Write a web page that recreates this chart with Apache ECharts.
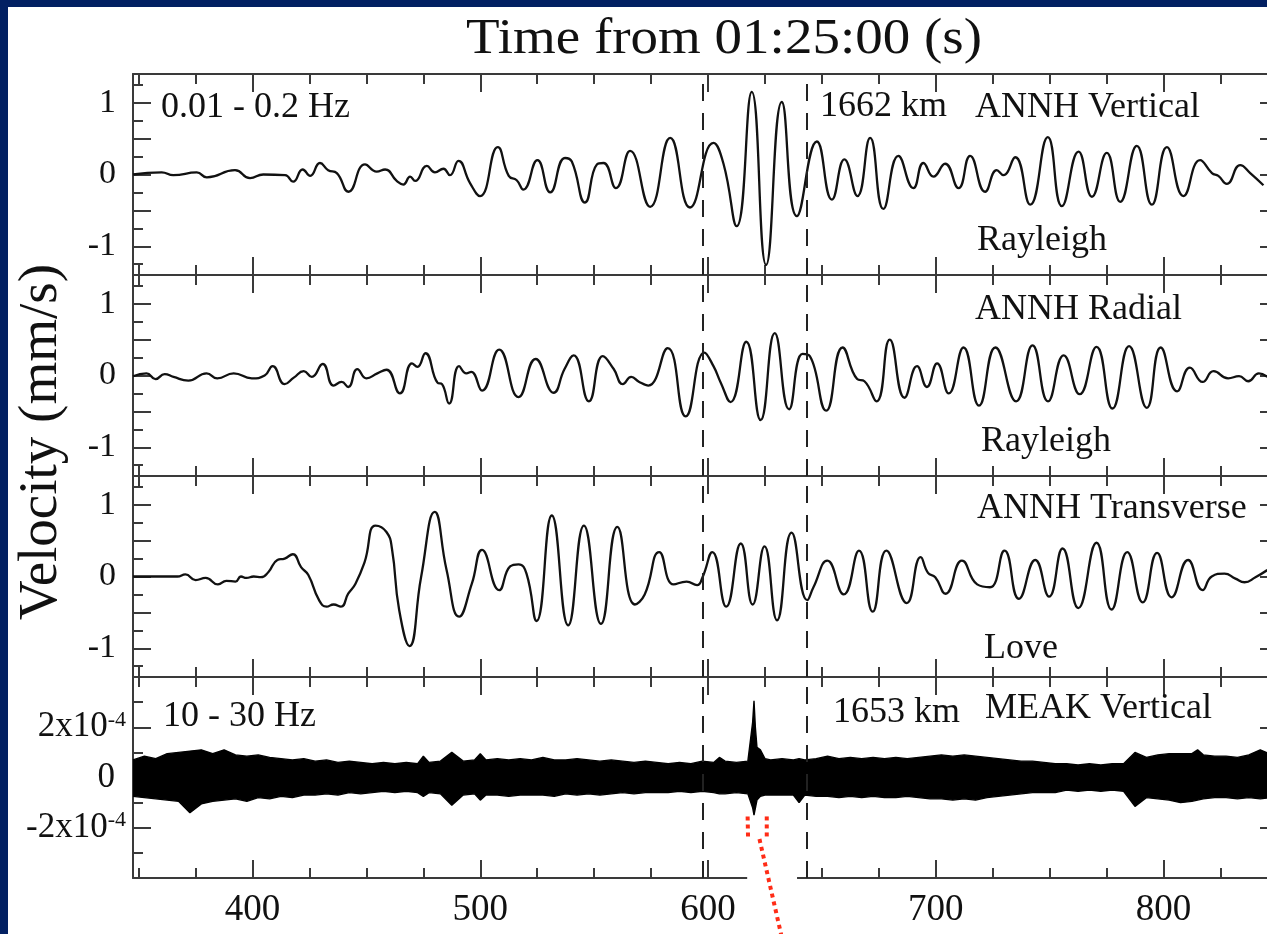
<!DOCTYPE html>
<html><head><meta charset="utf-8">
<script src="https://cdn.jsdelivr.net/npm/echarts@6/dist/echarts.min.js"></script>
<style>
html,body{margin:0;padding:0;background:#022062;width:1267px;height:934px;overflow:hidden}
#white{position:absolute;left:8px;top:7px;right:0;bottom:0;background:#fff}
#chart{position:absolute;left:0;top:0;width:1267px;height:934px}
</style></head><body><div id="white"></div><div id="chart"></div>
<script>
// ---------------- data (time in s from 01:25:00, velocity in mm/s) ----------------
const vertT = [347.5,360.1,365.2,375.5,379.9,392.3,398.9,404.7,414.3,417.8,422.0,425.3,429.6,433.2,437.0,442.1,449.4,454.5,458.2,463.3,466.2,469.2,471.4,476.5,480.1,483.8,486.7,490.4,495.5,499.9,507.7,512.5,516.0,518.9,525.1,530.7,537.2,540.2,546.0,551.2,554.1,559.6,565.8,574.6,583.4,592.1,602.4,606.8,612.6,619.2,625.5,632.4,639.0,647.8,654.4,659.9,665.6,671.2,677.0,683.6,690.2,694.6,699.0,704.1,710.0,715.1,721.7,726.8,729.7,734.9,741.5,749.2,755.4,762.7,768.6,775.1,781.0,788.3,794.9,801.5,808.8,816.1,821.3,824.1,827.8,833.7,838.1,843.9];
const vertV = [0.00,0.03,-0.01,0.03,-0.04,0.06,-0.05,0.00,-0.01,-0.10,0.07,-0.02,0.16,0.06,0.02,-0.24,0.14,0.04,0.07,-0.09,-0.14,-0.03,-0.09,0.12,0.03,0.08,-0.01,0.19,-0.12,-0.30,0.38,-0.02,-0.08,-0.21,0.20,-0.25,0.23,0.18,-0.39,0.14,0.16,-0.19,0.33,-0.45,0.51,-0.46,0.44,0.15,-0.72,1.15,-1.26,1.01,-0.58,0.46,-0.35,0.21,-0.30,0.51,-0.48,0.26,-0.19,0.16,-0.03,0.15,-0.19,0.26,-0.24,0.06,-0.01,0.24,-0.42,0.52,-0.44,0.32,-0.31,0.30,-0.38,0.40,-0.42,0.38,-0.30,0.20,0.02,-0.02,-0.13,0.13,0.02,-0.15];

const radT = [347.5,353.4,357.4,361.4,365.3,371.8,379.8,384.5,391.7,399.7,405.3,408.8,414.1,418.1,422.5,426.0,430.8,435.6,439.1,442.0,446.0,450.0,454.8,458.8,464.7,470.0,472.4,475.9,481.2,483.2,486.3,490.7,493.9,496.0,500.8,508.3,516.8,524.3,532.2,537.0,541.0,547.7,553.8,558.6,562.6,566.3,569.8,573.8,582.3,590.2,598.4,602.4,605.6,609.9,616.8,623.1,629.3,635.6,641.5,644.7,651.9,659.1,665.5,668.7,674.0,679.8,686.3,691.8,696.1,700.6,705.7,712.2,719.0,726.2,735.3,742.5,749.3,756.2,763.2,770.6,777.6,784.9,792.7,798.8,806.0,811.6,817.2,822.0,828.4,833.2,837.2,841.9,845.6];
const radV = [-0.01,0.03,-0.05,0.02,-0.02,-0.07,0.03,-0.04,0.03,-0.04,0.00,0.13,-0.12,-0.03,0.06,-0.02,0.16,-0.14,-0.09,-0.16,0.09,-0.04,0.03,0.08,-0.25,0.17,0.12,0.31,-0.10,-0.12,-0.39,0.13,0.03,0.05,-0.21,0.36,-0.30,0.23,-0.24,0.09,0.28,-0.36,0.27,0.09,-0.12,-0.02,-0.09,-0.14,0.38,-0.57,0.32,0.13,-0.10,-0.37,0.47,-0.62,0.59,-0.47,0.30,0.27,-0.49,0.39,-0.05,-0.08,-0.36,0.50,-0.31,0.13,-0.16,0.17,-0.25,0.39,-0.42,0.39,-0.36,0.42,-0.36,0.28,-0.26,0.40,-0.46,0.41,-0.45,0.39,-0.22,0.11,-0.09,0.06,-0.04,-0.01,-0.08,0.03,-0.02];

const transT = [347.5,362.2,367.0,370.5,375.0,379.4,384.8,388.5,392.5,394.9,397.3,400.5,403.7,406.9,410.9,414.1,417.7,421.3,424.5,429.2,432.5,435.6,438.8,442.0,445.2,449.2,454.0,458.8,461.2,464.4,468.9,474.0,480.0,485.2,490.7,496.3,500.8,508.3,513.1,516.8,520.3,524.7,531.4,538.6,545.5,553.0,560.2,567.9,572.2,578.6,584.9,590.6,595.2,597.6,601.9,608.0,614.4,619.6,624.8,630.3,636.7,643.6,646.3,652.4,659.6,666.3,672.3,678.3,687.3,693.4,696.6,699.8,704.3,711.5,718.2,723.8,730.2,736.5,743.7,749.8,755.7,762.6,770.6,777.2,784.1,790.9,797.2,803.6,810.8,817.2,821.2,826.8,831.6,835.6,840.4,845.6];
const transV = [0.00,0.00,0.00,0.03,-0.05,-0.02,-0.11,-0.06,-0.07,0.00,-0.02,0.00,-0.01,0.06,0.23,0.25,0.31,0.13,0.02,-0.33,-0.42,-0.39,-0.42,-0.24,-0.10,0.20,0.71,0.62,0.39,-0.47,-0.97,-0.01,0.90,0.09,-0.56,-0.10,0.37,-0.19,0.14,0.17,0.04,-0.62,0.85,-0.68,0.71,-0.66,0.69,-0.39,-0.25,0.34,-0.11,-0.07,-0.12,-0.01,0.34,-0.42,0.46,-0.39,0.42,-0.61,0.61,-0.33,-0.15,0.22,-0.25,0.36,-0.49,0.36,-0.37,0.27,0.05,-0.01,-0.24,0.22,-0.11,-0.15,0.36,-0.31,0.23,-0.28,0.39,-0.44,0.47,-0.46,0.34,-0.36,0.33,-0.29,0.23,-0.19,0.00,0.04,-0.03,-0.08,-0.01,0.09];

// MEAK 10-30 Hz: envelope of the dense trace (units of 1e-4 mm/s)
const meakT  = [347.5,352.5,357.5,362.5,367.5,372.5,377.5,382.5,387.5,392.5,397.5,402.5,407.5,412.5,417.5,422.5,427.5,432.5,437.5,442.5,447.5,452.5,457.5,462.5,467.5,472.5,475.0,477.5,482.5,487.5,492.5,497.5,500.0,502.5,507.5,512.5,517.5,522.5,527.5,532.5,537.5,542.5,547.5,552.5,557.5,562.5,567.5,572.5,577.5,582.5,587.5,592.5,597.5,602.5,605.0,607.5,612.5,617.5,619.6,620.2,620.8,621.5,623.0,625.0,627.5,632.5,637.5,640.0,642.5,647.5,652.5,657.5,662.5,667.5,672.5,677.5,682.5,687.5,692.5,697.5,702.5,707.5,712.5,717.5,722.5,727.5,732.5,737.5,742.5,747.5,752.5,757.5,762.5,767.5,772.5,777.5,782.5,787.5,792.5,797.5,802.5,807.5,812.5,815.0,817.5,822.5,827.5,832.5,837.5,842.5,847.5];
const meakUp = [0.70,0.85,0.75,0.95,1.00,1.05,1.10,0.95,1.10,0.90,0.85,0.90,0.80,0.75,0.70,0.75,0.65,0.70,0.60,0.65,0.60,0.55,0.60,0.55,0.60,0.55,0.85,0.60,0.65,1.00,0.65,0.70,0.95,0.70,0.75,0.70,0.75,0.70,0.80,0.70,0.70,0.75,0.70,0.65,0.70,0.65,0.60,0.65,0.60,0.55,0.60,0.55,0.65,0.60,0.80,0.65,0.60,0.65,2.20,3.05,2.00,1.20,1.10,0.75,0.70,0.75,0.70,0.75,0.70,0.75,0.85,0.75,0.80,0.75,0.80,0.75,0.80,0.75,0.80,0.85,0.90,0.85,0.90,0.85,0.80,0.75,0.70,0.65,0.65,0.60,0.55,0.55,0.50,0.55,0.50,0.55,0.55,1.00,0.80,0.90,0.95,0.95,0.95,1.10,0.90,0.85,0.85,0.80,0.90,1.10,0.90];
const meakLo = [-0.75,-0.80,-0.85,-0.90,-0.95,-1.40,-1.05,-0.95,-0.90,-0.85,-0.95,-0.80,-0.85,-0.75,-0.80,-0.70,-0.70,-0.65,-0.70,-0.60,-0.65,-0.60,-0.55,-0.60,-0.55,-0.60,-0.75,-0.60,-0.65,-1.10,-0.70,-0.65,-0.90,-0.70,-0.70,-0.75,-0.70,-0.70,-0.70,-0.75,-0.65,-0.70,-0.65,-0.70,-0.65,-0.60,-0.65,-0.60,-0.60,-0.60,-0.55,-0.60,-0.55,-0.60,-0.65,-0.65,-0.60,-0.65,-1.20,-1.50,-1.45,-0.90,-0.75,-0.70,-0.70,-0.70,-0.70,-1.00,-0.70,-0.75,-0.75,-0.80,-0.75,-0.80,-0.75,-0.80,-0.80,-0.75,-0.80,-0.85,-0.85,-0.90,-0.85,-0.90,-0.80,-0.75,-0.70,-0.65,-0.60,-0.60,-0.60,-0.50,-0.55,-0.50,-0.55,-0.50,-0.55,-1.15,-0.80,-0.85,-0.90,-1.00,-0.95,-0.90,-0.85,-0.80,-0.80,-0.85,-0.80,-0.85,-0.80];

// window markers (dashed) and the red annotation (data coords of panel 4)
const dashT = [597.8, 643.5];
const annoLeft  = [[617.4,-1.55],[617.6,-2.45]];
const annoRight = [[625.8,-1.55],[625.8,-2.35]];
const annoDiag  = [[622.6,-2.45],[633.0,-6.6]];
const axisGapT  = [617.2, 639.1];

// tick / label values
const xLong  = [400,500,600,700,800];
const xShort = [350,375,425,450,475,525,550,575,625,650,675,725,750,775,825];
const yLong  = [-1,-0.5,0,0.5,1];
const yShort = [-1.25,-0.75,-0.25,0.25,0.75,1.25];
const yLabels = [-1,0,1];
const y4Long = [-2,0,2];
const y4Short = [-3,-1,1,3];
const y4Labels = [-2,0,2];

// ---------------- layout ----------------
const FONT = '"Liberation Serif","Times New Roman",serif';
const AX = '#3a3a3a';
const X_MIN = 347.5, X_MAX = 850.3;
const TOPS = [74, 275, 476, 677], PH = 201;
const YR = [[-1.4,1.4],[-1.4,1.4],[-1.4,1.4],[-4,4]];

const grid = TOPS.map(t => ({left:133, top:t, width:1145, height:PH, containLabel:false, outerBoundsMode:'none'}));
const xAxis = [], yAxis = [];
function ax(gi, pos, min, max, ticks, len, line, labels, labelOpt){
  return {type:'value', gridIndex:gi, position:pos, min:min, max:max,
    axisLine:{show:line, onZero:false, lineStyle:{color:AX, width:2}},
    axisTick:{show:true, inside:true, length:len, customValues:ticks, lineStyle:{color:AX, width:2}},
    axisLabel: labels ? Object.assign({show:true, customValues:labels, color:'#111', fontFamily:FONT}, labelOpt) : {show:false},
    splitLine:{show:false}};
}
for (let g=0; g<4; g++){
  const last = g===3;
  xAxis.push(ax(g,'bottom',X_MIN,X_MAX,xLong,18,true, last?xLong:null, {fontSize:37, margin:14}));
  xAxis.push(ax(g,'bottom',X_MIN,X_MAX,xShort,10,false,null));
  xAxis.push(ax(g,'top',X_MIN,X_MAX,xLong,18,true,null));
  xAxis.push(ax(g,'top',X_MIN,X_MAX,xShort,10,false,null));
  const [mn,mx] = YR[g];
  const L = last ? y4Long : yLong, S = last ? y4Short : yShort;
  const lab = last ? {margin:7, formatter: v => v===0 ? '{m|0}{p| }' : '{m|'+v+'x10}{s|-4}',
      rich:{m:{fontSize:35, lineHeight:35, fontFamily:FONT, color:'#111', verticalAlign:'bottom'},
            s:{fontSize:22, lineHeight:22, fontFamily:FONT, color:'#111', verticalAlign:'bottom', padding:[0,0,14,0]},
            p:{width:11, fontSize:12}}}
    : {fontSize:34, margin:17};
  yAxis.push(ax(g,'left',mn,mx,L,18,true, last?y4Labels:yLabels, lab));
  yAxis.push(ax(g,'left',mn,mx,S,10,false,null));
  yAxis.push(ax(g,'right',mn,mx,L,18,true,null));
  yAxis.push(ax(g,'right',mn,mx,S,10,false,null));
}

const dashML = {silent:true, symbol:['none','none'], label:{show:false}, animation:false,
  lineStyle:{color:'#222', width:2, type:[17,12]}, emphasis:{disabled:true},
  data: dashT.map(t => ({xAxis:t}))};
const trace = (gi, T, V) => ({type:'line', xAxisIndex:gi*4, yAxisIndex:gi*4, smooth:0.5, symbol:'none',
  data:T.map((t,i)=>[t,V[i]]), lineStyle:{color:'#111', width:2.3}, markLine:dashML, z:3, silent:true});

const series = [
  trace(0, vertT, vertV),
  trace(1, radT, radV),
  trace(2, transT, transV),
  {type:'line', xAxisIndex:12, yAxisIndex:12, symbol:'none', silent:true,
   data:meakT.map((t,i)=>[t,meakUp[i]]), lineStyle:{color:'#000', width:1.4},
   areaStyle:{color:'#000', opacity:1, origin:-0.3}, markLine:dashML, z:3},
  {type:'line', xAxisIndex:12, yAxisIndex:12, symbol:'none', silent:true,
   data:meakT.map((t,i)=>[t,meakLo[i]]), lineStyle:{color:'#000', width:1.4},
   areaStyle:{color:'#000', opacity:1, origin:0.3}, z:3}
];

const chart = echarts.init(document.getElementById('chart'), null, {renderer:'canvas'});
chart.setOption({animation:false, grid, xAxis, yAxis, series});

// ---------------- texts & annotation ----------------
const TXT = (text, x, y, size, extra) => Object.assign({type:'text', x:x, y:y, silent:true, z:10,
  style:{text:text, fontSize:size, fontFamily:FONT, fill:'#111', textAlign:'left', textVerticalAlign:'middle', align:'left', verticalAlign:'middle'}}, extra||{});
const panelTexts = [
  ['0.01 - 0.2 Hz',161,108],['1662 km',820,107],['ANNH Vertical',975,108],['Rayleigh',977,241],
  ['ANNH Radial',975,310],['Rayleigh',981,442],
  ['ANNH Transverse',977,509],['Love',984,649],
  ['10 - 30 Hz',163,717],['1653 km',833,713],['MEAK Vertical',985,709]
];
const g = panelTexts.map(p => TXT(p[0], p[1], p[2], 36));
const title = TXT('Time from 01:25:00 (s)', 724, 40, 50, {scaleX:1.1});
title.style.textAlign = 'center'; title.style.align = 'center';
g.push(title);
const ylab = TXT('Velocity (mm/s)', 42, 442, 55, {rotation: Math.PI/2});
ylab.style.textAlign = 'center'; ylab.style.align = 'center';
g.push(ylab);

const P = (d) => chart.convertToPixel({seriesIndex:3}, d);
const gA = P([axisGapT[0], -4]), gB = P([axisGapT[1], -4]);
g.push({type:'rect', silent:true, z:20, shape:{x:gA[0], y:gA[1]-13, width:gB[0]-gA[0], height:20}, style:{fill:'#fff'}});
const red = {stroke:'#ff2c16', lineWidth:4, lineDash:[4,4], fill:null};
[annoLeft, annoRight, annoDiag].forEach(seg => {
  g.push({type:'polyline', silent:true, z:30, shape:{points:seg.map(P)}, style:red});
});
chart.setOption({graphic: g});
</script></body></html>
